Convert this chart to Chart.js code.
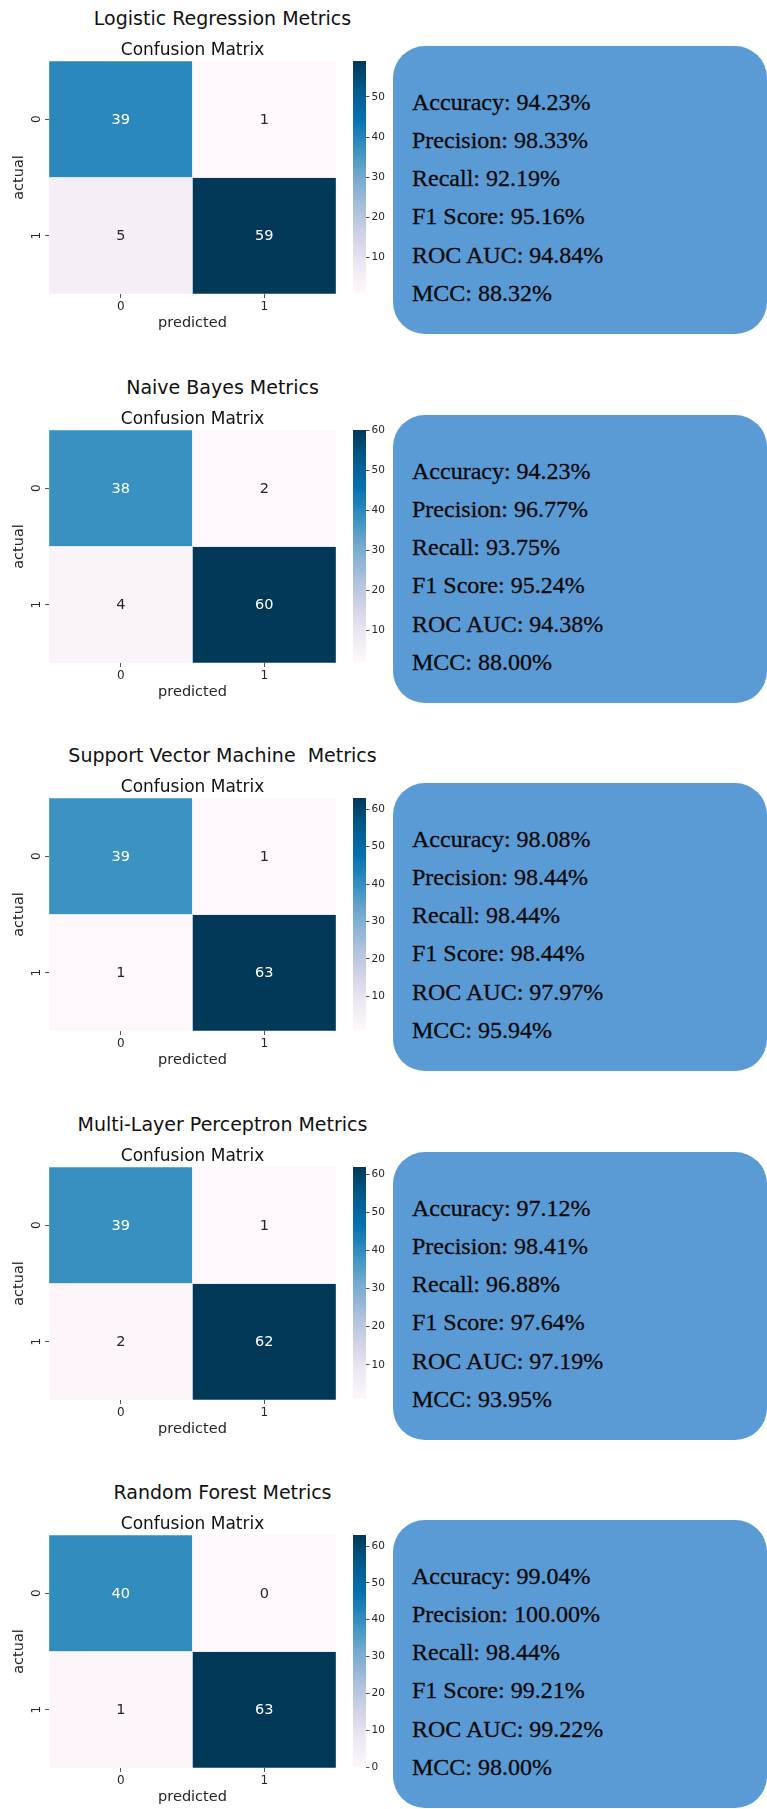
<!DOCTYPE html>
<html>
<head>
<meta charset="utf-8">
<script src="https://cdn.jsdelivr.net/npm/chart.js@4.4.0/dist/chart.umd.min.js"></script>
<style>
  html, body { margin: 0; padding: 0; background: #fff; }
  #page { position: relative; width: 767px; height: 1809px; overflow: hidden; background: #fff; }
  .suptitle {
    position: absolute; left: 0; width: 445px; text-align: center;
    font-family: 'DejaVu Sans'; font-size: 19px; line-height: 22px; color: #111; white-space: pre;
  }
  canvas { position: absolute; display: block; }
  .metrics {
    position: absolute; left: 393px; width: 374px; height: 288px; border-radius: 32px;
    background: #5b9bd5; box-sizing: border-box; padding: 36.6px 0 0 19px;
    font-family: 'Liberation Serif'; font-size: 24px; line-height: 38.3px; color: #0a0a0a; white-space: pre;
    -webkit-text-stroke: 0.3px #0a0a0a;
  }
</style>
</head>
<body>
<div id="page"></div>
<script>
// ---- data ----
const predictedLabels = ['0', '1'];
const actualLabels = ['0', '1'];

const modelNames = ['Logistic Regression', 'Naive Bayes', 'Support Vector Machine ', 'Multi-Layer Perceptron', 'Random Forest'];

const cmLogistic     = [[39, 1], [5, 59]];
const cmNaiveBayes   = [[38, 2], [4, 60]];
const cmSVM          = [[39, 1], [1, 63]];
const cmMLP          = [[39, 1], [2, 62]];
const cmRandomForest = [[40, 0], [1, 63]];

const metricNames = ['Accuracy', 'Precision', 'Recall', 'F1 Score', 'ROC AUC', 'MCC'];
const scoresLogistic     = [94.23, 98.33, 92.19, 95.16, 94.84, 88.32];
const scoresNaiveBayes   = [94.23, 96.77, 93.75, 95.24, 94.38, 88.00];
const scoresSVM          = [98.08, 98.44, 98.44, 98.44, 97.97, 95.94];
const scoresMLP          = [97.12, 98.41, 96.88, 97.64, 97.19, 93.95];
const scoresRandomForest = [99.04, 100.00, 98.44, 99.21, 99.22, 98.00];

const colorbarStep = 10;

// ---- styling ----
const PANEL_PITCH = 368.5;
const FONT = "'DejaVu Sans'";
const INK = '#262626';
// PuBu colour ramp (light -> dark)
const PUBU = [
  [255, 247, 251], [236, 231, 242], [208, 209, 230], [166, 189, 219], [116, 169, 207],
  [54, 144, 192], [5, 112, 176], [4, 90, 141], [2, 56, 88]
];

function pubu(t) {
  t = Math.max(0, Math.min(1, t));
  const n = PUBU.length - 1;
  const s = t * n;
  const i = Math.min(Math.floor(s), n - 1);
  const f = s - i;
  const a = PUBU[i], b = PUBU[i + 1];
  return [0, 1, 2].map(k => Math.round(a[k] + (b[k] - a[k]) * f));
}
const rgbStr = c => `rgb(${c[0]},${c[1]},${c[2]})`;
function relLum(c) {
  const l = c.map(v => { v /= 255; return v <= 0.03928 ? v / 12.92 : Math.pow((v + 0.055) / 1.055, 2.4); });
  return 0.2126 * l[0] + 0.7152 * l[1] + 0.0722 * l[2];
}

Chart.defaults.font.family = FONT;
Chart.defaults.color = INK;
Chart.defaults.animation = false;

// count written in the middle of every cell
const cellAnnotations = {
  id: 'cellAnnotations',
  afterDatasetsDraw(chart) {
    const ctx = chart.ctx;
    ctx.save();
    ctx.font = `14.5px ${FONT}`;
    ctx.textAlign = 'center';
    ctx.textBaseline = 'middle';
    chart.data.datasets.forEach((ds, r) => {
      const meta = chart.getDatasetMeta(r);
      meta.data.forEach((el, c) => {
        const p = el.getProps(['x', 'y', 'base'], true);
        ctx.fillStyle = relLum(ds.cellRgb[c]) > 0.408 ? INK : '#ffffff';
        ctx.fillText(String(ds.counts[c]), p.x, (p.y + p.base) / 2 + 0.5);
      });
    });
    ctx.restore();
  }
};

// row labels, turned to read bottom-to-top
const rowLabels = {
  id: 'rowLabels',
  afterDraw(chart) {
    const ys = chart.scales.y;
    const ctx = chart.ctx;
    ctx.save();
    ctx.font = `12px ${FONT}`;
    ctx.fillStyle = INK;
    ctx.textAlign = 'center';
    ctx.textBaseline = 'middle';
    ys.ticks.forEach((t, i) => {
      ctx.save();
      ctx.translate(37, ys.getPixelForValue(t.value));
      ctx.rotate(-Math.PI / 2);
      ctx.fillText(actualLabels[i], 0, 0);
      ctx.restore();
    });
    ctx.restore();
  }
};

function makeCanvas(page, left, top, w, h) {
  const cv = document.createElement('canvas');
  cv.width = w; cv.height = h;
  cv.style.left = left + 'px'; cv.style.top = top + 'px';
  cv.style.width = w + 'px'; cv.style.height = h + 'px';
  page.appendChild(cv);
  return cv;
}

function drawHeatmap(page, top, matrix, vmin, vmax) {
  const cv = makeCanvas(page, 0, top + 36, 345, 300);
  const datasets = matrix.map((row, r) => {
    const rgb = row.map(v => pubu((v - vmin) / (vmax - vmin)));
    return {
      data: row.map(() => [r, r + 1]),
      counts: row,
      cellRgb: rgb,
      backgroundColor: rgb.map(rgbStr),
      borderColor: 'rgba(255,255,255,0.7)',
      borderWidth: 0.5,
      borderSkipped: false,
      grouped: false,
      barPercentage: 1,
      categoryPercentage: 1
    };
  });
  new Chart(cv, {
    type: 'bar',
    data: { labels: predictedLabels, datasets },
    options: {
      responsive: false,
      devicePixelRatio: 1,
      layout: { padding: { left: 0, right: 9, top: 0, bottom: 0 } },
      plugins: {
        legend: { display: false },
        tooltip: { enabled: false },
        title: {
          display: true, text: 'Confusion Matrix', fullSize: false, color: '#111',
          font: { size: 17, weight: 'normal', family: FONT, lineHeight: 1.2 },
          padding: { top: 4.6, bottom: 0 }
        }
      },
      scales: {
        x: {
          type: 'category',
          grid: { drawOnChartArea: false, drawTicks: true, tickLength: 4, offset: false, color: INK, lineWidth: 0.8 },
          border: { display: false },
          ticks: { font: { size: 12 }, color: INK, padding: 2, maxRotation: 0 },
          title: { display: true, text: 'predicted', font: { size: 14.5 }, color: INK, padding: { top: 0, bottom: 4 } },
          afterFit: s => { s.height = 42; }
        },
        y: {
          type: 'linear', min: 0, max: 2, reverse: true,
          afterBuildTicks: s => { s.ticks = actualLabels.map((_, i) => ({ value: i + 0.5 })); },
          grid: { drawOnChartArea: false, drawTicks: true, tickLength: 4, color: INK, lineWidth: 0.8 },
          border: { display: false },
          ticks: { display: false },
          title: { display: true, text: 'actual', font: { size: 14.5 }, color: INK, padding: { top: 10.6, bottom: 0 } },
          afterFit: s => { s.width = 49; }
        }
      }
    },
    plugins: [cellAnnotations, rowLabels]
  });
}

function drawColorbar(page, top, vmin, vmax) {
  const cv = makeCanvas(page, 345, top + 50, 47, 255);
  new Chart(cv, {
    type: 'bar',
    data: {
      labels: [''],
      datasets: [{
        data: [[vmin, vmax]],
        backgroundColor: c => {
          const ys = c.chart.scales.y;
          const area = c.chart.chartArea;
          if (!ys || !area) return 'transparent';
          const y0 = ys.getPixelForValue(vmin), y1 = ys.getPixelForValue(vmax);
          if (!isFinite(y0) || !isFinite(y1)) return 'transparent';
          const g = c.chart.ctx.createLinearGradient(0, y0, 0, y1);
          PUBU.forEach((col, i) => g.addColorStop(i / (PUBU.length - 1), rgbStr(col)));
          return g;
        },
        borderWidth: 0,
        barPercentage: 1,
        categoryPercentage: 1
      }]
    },
    options: {
      responsive: false,
      devicePixelRatio: 1,
      layout: { padding: { left: 8, right: 0, top: 11, bottom: 12 } },
      plugins: { legend: { display: false }, tooltip: { enabled: false } },
      scales: {
        x: { display: false },
        y: {
          position: 'right', min: vmin, max: vmax,
          grid: { drawOnChartArea: false, drawTicks: true, tickLength: 3.5, color: INK, lineWidth: 0.8 },
          border: { display: false },
          ticks: { stepSize: colorbarStep, includeBounds: false, font: { size: 10.5 }, color: INK, padding: 2 },
          afterFit: s => { s.width = 26; }
        }
      }
    }
  });
}

function drawMetrics(page, top, scores) {
  const box = document.createElement('div');
  box.className = 'metrics';
  box.style.top = (top + 46) + 'px';
  metricNames.forEach((m, k) => {
    const line = document.createElement('div');
    line.textContent = `${m}: ${scores[k].toFixed(2)}%`;
    box.appendChild(line);
  });
  page.appendChild(box);
}

const page = document.getElementById('page');
const matrices = [cmLogistic, cmNaiveBayes, cmSVM, cmMLP, cmRandomForest];
const scores = [scoresLogistic, scoresNaiveBayes, scoresSVM, scoresMLP, scoresRandomForest];

modelNames.forEach((name, i) => {
  const top = Math.round(i * PANEL_PITCH);
  const title = document.createElement('div');
  title.className = 'suptitle';
  title.style.top = (top + 7.4) + 'px';
  title.textContent = name + ' Metrics';
  page.appendChild(title);

  const flat = matrices[i].flat();
  const vmin = Math.min(...flat), vmax = Math.max(...flat);
  drawHeatmap(page, top, matrices[i], vmin, vmax);
  drawColorbar(page, top, vmin, vmax);
  drawMetrics(page, top, scores[i]);
});
</script>
</body>
</html>
